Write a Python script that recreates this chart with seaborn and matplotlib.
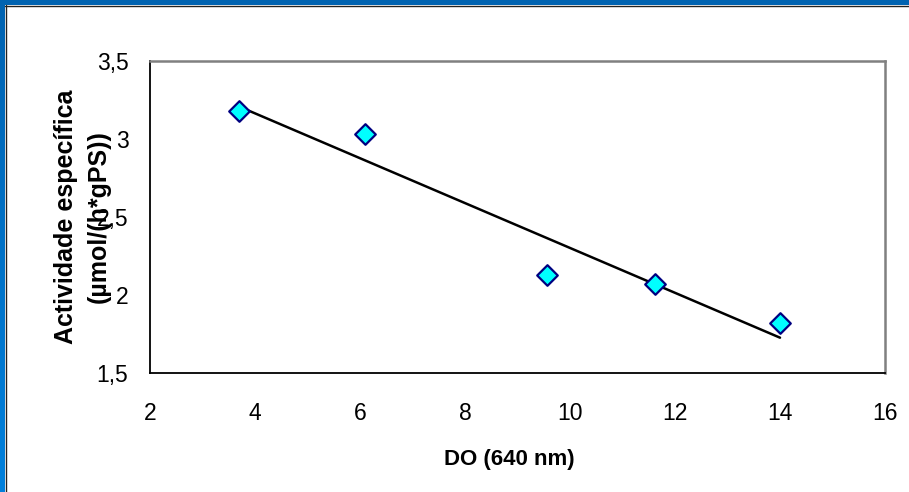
import numpy as np
import pandas as pd
import matplotlib
matplotlib.use("Agg")
import matplotlib.pyplot as plt
import seaborn as sns
from matplotlib.colors import LinearSegmentedColormap

# Data
do_640 = [3.70, 6.10, 9.56, 11.62, 14.00]
actividade = [3.18, 3.03, 2.13, 2.07, 1.82]
x_ticks = [2, 4, 6, 8, 10, 12, 14, 16]
x_tick_labels = ["2", "4", "6", "8", "10", "12", "14", "16"]
y_ticks = [1.5, 2.0, 2.5, 3.0, 3.5]
y_tick_labels = ["1,5", "2", "2,5", "3", "3,5"]
x_label = "DO (640 nm)"
y_label = "Actividade específica\n(µmol/(h*gPS))"

df = pd.DataFrame({"do": do_640, "act": actividade})

sns.set_theme(style="white")
plt.rcParams["font.family"] = ["Liberation Sans", "DejaVu Sans"]
plt.rcParams["text.color"] = "black"

W, H = 909, 492
fig = plt.figure(figsize=(W / 100, H / 100), dpi=100)
fig.patch.set_facecolor("white")

# blue frame (top and left)
blue = "#0063B1"
top_ax = fig.add_axes([0, 1 - 5 / H, 1, 5 / H])
top_ax.axis("off")
top_ax.add_patch(plt.Rectangle((0, 0), 1, 1, transform=top_ax.transAxes, color=blue))
left_ax = fig.add_axes([0, 0, 5 / W, 1])
grad = np.linspace(0, 1, 256).reshape(-1, 1)
cmap = LinearSegmentedColormap.from_list("b", ["#0080DC", blue])
left_ax.imshow(grad, aspect="auto", cmap=cmap, origin="lower", extent=[0, 1, 0, 1])
left_ax.axis("off")
fig.add_artist(plt.Line2D([5 / W, 1], [1 - 5.5 / H, 1 - 5.5 / H], transform=fig.transFigure, color="#222222", lw=1))
fig.add_artist(plt.Line2D([5.5 / W, 5.5 / W], [0, 1 - 5 / H], transform=fig.transFigure, color="#222222", lw=1))

ax = fig.add_axes([150 / W, (H - 373) / H, 735 / W, 312 / H])
sns.regplot(data=df, x="do", y="act", ax=ax, scatter=False, ci=None,
            line_kws=dict(color="black", lw=1.8), truncate=True)
sns.scatterplot(data=df, x="do", y="act", ax=ax, marker="D", s=110,
                color="#00FFFF", edgecolor="#000080", linewidth=1.6, zorder=5)

ax.set_xlim(2, 16)
ax.set_ylim(1.5, 3.5)
ax.set_xticks(x_ticks)
ax.set_xticklabels(x_tick_labels)
ax.set_yticks(y_ticks)
ax.set_yticklabels(y_tick_labels)
ax.tick_params(axis="both", direction="out", width=1.0, color="black",
               labelsize=16.5, labelcolor="black")
ax.tick_params(axis="x", pad=15, length=6)
ax.tick_params(axis="y", pad=11, length=4.5)

for s in ["left", "bottom"]:
    ax.spines[s].set_color("black")
    ax.spines[s].set_linewidth(1.3)
for s in ["top", "right"]:
    ax.spines[s].set_color("#808080")
    ax.spines[s].set_linewidth(1.8)
    ax.spines[s].set_visible(True)

ax.set_xlabel(x_label, fontsize=16, fontweight="bold", color="black", va="center")
ax.xaxis.set_label_coords((509 - 150) / 735, (373 - 460) / 312)
ax.set_ylabel(y_label, fontsize=18, fontweight="bold", color="black", va="center",
              linespacing=1.45)
ax.yaxis.set_label_coords((82 - 150) / 735, 0.5)
ax.grid(False)
ax.set_facecolor("white")

fig.savefig("out.png", dpi=100, facecolor="white")
